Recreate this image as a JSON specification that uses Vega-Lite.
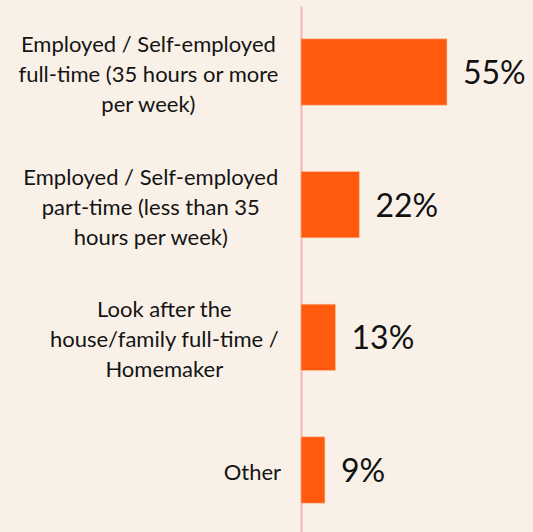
{
  "$schema": "https://vega.github.io/schema/vega-lite/v6.json",
  "autosize": "none",
  "width": 232,
  "height": 530,
  "padding": {"left": 301, "top": 6, "right": 0, "bottom": 0},
  "background": "#F9F1E8",
  "config": {"view": {"stroke": null}, "font": "Lato"},
  "data": {
    "values": [
      {"category": "Employed / Self-employed\nfull-time (35 hours or more\nper week)", "share": 0.55},
      {"category": "Employed / Self-employed\npart-time (less than 35\nhours per week)", "share": 0.22},
      {"category": "Look after the\nhouse/family full-time /\nHomemaker", "share": 0.13},
      {"category": "Other", "share": 0.09}
    ]
  },
  "encoding": {
    "y": {
      "field": "category",
      "type": "nominal",
      "sort": null,
      "scale": {"paddingInner": 0.5, "paddingOuter": 0.2475},
      "axis": {
        "title": null,
        "ticks": false,
        "labels": false,
        "domainColor": "#F7B4B4",
        "domainWidth": 2
      }
    },
    "x": {
      "field": "share",
      "type": "quantitative",
      "scale": {"domain": [0, 0.874], "nice": false},
      "axis": null
    }
  },
  "layer": [
    {"mark": {"type": "bar", "color": "#FF5A0E", "stroke": "#F9C7A8", "strokeWidth": 0.5}},
    {
      "mark": {"type": "text", "align": "left", "baseline": "middle", "dx": 16, "dy": 2, "fontSize": 32, "font": "Lato", "color": "#111111"},
      "encoding": {"text": {"field": "share", "type": "quantitative", "format": ".0%"}}
    },
    {
      "mark": {
        "type": "text",
        "align": "center",
        "baseline": "middle",
        "lineBreak": "\n",
        "lineHeight": 30,
        "dx": {"expr": "-23 - max(12.4*length(split(datum.category, '\\n')[0] || '') - 5.4*length(replace(split(datum.category, '\\n')[0] || '', regexp('[^ iltfr()/-]', 'g'), '')), 12.4*length(split(datum.category, '\\n')[1] || '') - 5.4*length(replace(split(datum.category, '\\n')[1] || '', regexp('[^ iltfr()/-]', 'g'), '')), 12.4*length(split(datum.category, '\\n')[2] || '') - 5.4*length(replace(split(datum.category, '\\n')[2] || '', regexp('[^ iltfr()/-]', 'g'), ''))) / 2"},
        "dy": {"expr": "3 - (length(split(datum.category, '\\n')) - 1) * 15"},
        "fontSize": 22,
        "font": "Lato",
        "color": "#141414"
      },
      "encoding": {
        "x": {"datum": 0},
        "text": {"field": "category", "type": "nominal"}
      }
    }
  ]
}
